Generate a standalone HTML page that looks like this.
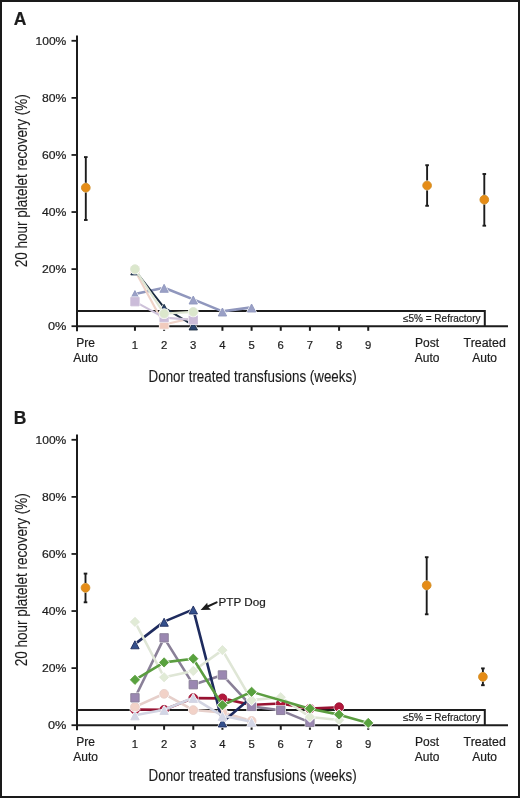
<!DOCTYPE html>
<html><head><meta charset="utf-8"><style>
html,body{margin:0;padding:0;background:#fff;}
#c{position:relative;width:520px;height:798px;overflow:hidden;background:#fff;}
svg{display:block;font-family:"Liberation Sans",sans-serif;fill:#1c1c1c;will-change:transform;}
text{stroke:#1c1c1c;stroke-width:0.2px;}
</style></head><body><div id="c">
<svg width="520" height="798" viewBox="0 0 520 798">
<rect x="1" y="1" width="518" height="796" fill="#fff" stroke="#1a1a1a" stroke-width="2"/>
<g fill="#1c1c1c">
<text x="13.80" y="25.20" font-size="17.5" text-anchor="start" font-weight="bold">A</text>
<line x1="77" y1="35.40" x2="77" y2="331.20" stroke="#1c1c1c" stroke-width="2"/>
<line x1="71.5" y1="326.20" x2="77" y2="326.20" stroke="#1c1c1c" stroke-width="1.8"/>
<text x="66.30" y="330.30" font-size="11" text-anchor="end" font-weight="normal" textLength="18.4" lengthAdjust="spacingAndGlyphs">0%</text>
<line x1="71.5" y1="269.12" x2="77" y2="269.12" stroke="#1c1c1c" stroke-width="1.8"/>
<text x="66.30" y="273.22" font-size="11" text-anchor="end" font-weight="normal" textLength="24.4" lengthAdjust="spacingAndGlyphs">20%</text>
<line x1="71.5" y1="212.04" x2="77" y2="212.04" stroke="#1c1c1c" stroke-width="1.8"/>
<text x="66.30" y="216.14" font-size="11" text-anchor="end" font-weight="normal" textLength="24.4" lengthAdjust="spacingAndGlyphs">40%</text>
<line x1="71.5" y1="154.96" x2="77" y2="154.96" stroke="#1c1c1c" stroke-width="1.8"/>
<text x="66.30" y="159.06" font-size="11" text-anchor="end" font-weight="normal" textLength="24.4" lengthAdjust="spacingAndGlyphs">60%</text>
<line x1="71.5" y1="97.88" x2="77" y2="97.88" stroke="#1c1c1c" stroke-width="1.8"/>
<text x="66.30" y="101.98" font-size="11" text-anchor="end" font-weight="normal" textLength="24.4" lengthAdjust="spacingAndGlyphs">80%</text>
<line x1="71.5" y1="40.80" x2="77" y2="40.80" stroke="#1c1c1c" stroke-width="1.8"/>
<text x="66.30" y="44.90" font-size="11" text-anchor="end" font-weight="normal" textLength="30.8" lengthAdjust="spacingAndGlyphs">100%</text>
<polyline points="77,311.10 484.8,311.10 484.8,326.20" fill="none" stroke="#1c1c1c" stroke-width="2"/>
<line x1="77" y1="326.20" x2="508" y2="326.20" stroke="#1c1c1c" stroke-width="2"/>
<text x="480.50" y="322.20" font-size="10" text-anchor="end" font-weight="normal" textLength="77.5" lengthAdjust="spacingAndGlyphs">&#8804;5% = Refractory</text>
<line x1="134.95" y1="326.20" x2="134.95" y2="330.80" stroke="#1c1c1c" stroke-width="2"/>
<text x="134.95" y="348.80" font-size="11.3" text-anchor="middle" font-weight="normal">1</text>
<line x1="164.11" y1="326.20" x2="164.11" y2="330.80" stroke="#1c1c1c" stroke-width="2"/>
<text x="164.11" y="348.80" font-size="11.3" text-anchor="middle" font-weight="normal">2</text>
<line x1="193.27" y1="326.20" x2="193.27" y2="330.80" stroke="#1c1c1c" stroke-width="2"/>
<text x="193.27" y="348.80" font-size="11.3" text-anchor="middle" font-weight="normal">3</text>
<line x1="222.43" y1="326.20" x2="222.43" y2="330.80" stroke="#1c1c1c" stroke-width="2"/>
<text x="222.43" y="348.80" font-size="11.3" text-anchor="middle" font-weight="normal">4</text>
<line x1="251.59" y1="326.20" x2="251.59" y2="330.80" stroke="#1c1c1c" stroke-width="2"/>
<text x="251.59" y="348.80" font-size="11.3" text-anchor="middle" font-weight="normal">5</text>
<line x1="280.75" y1="326.20" x2="280.75" y2="330.80" stroke="#1c1c1c" stroke-width="2"/>
<text x="280.75" y="348.80" font-size="11.3" text-anchor="middle" font-weight="normal">6</text>
<line x1="309.91" y1="326.20" x2="309.91" y2="330.80" stroke="#1c1c1c" stroke-width="2"/>
<text x="309.91" y="348.80" font-size="11.3" text-anchor="middle" font-weight="normal">7</text>
<line x1="339.07" y1="326.20" x2="339.07" y2="330.80" stroke="#1c1c1c" stroke-width="2"/>
<text x="339.07" y="348.80" font-size="11.3" text-anchor="middle" font-weight="normal">8</text>
<line x1="368.23" y1="326.20" x2="368.23" y2="330.80" stroke="#1c1c1c" stroke-width="2"/>
<text x="368.23" y="348.80" font-size="11.3" text-anchor="middle" font-weight="normal">9</text>
<text x="85.70" y="347.10" font-size="12" text-anchor="middle" font-weight="normal">Pre</text>
<text x="85.70" y="361.70" font-size="12" text-anchor="middle" font-weight="normal">Auto</text>
<text x="427.10" y="347.10" font-size="12" text-anchor="middle" font-weight="normal">Post</text>
<text x="427.10" y="361.70" font-size="12" text-anchor="middle" font-weight="normal">Auto</text>
<text x="484.70" y="347.10" font-size="12" text-anchor="middle" font-weight="normal" textLength="42.2" lengthAdjust="spacingAndGlyphs">Treated</text>
<text x="484.70" y="361.70" font-size="12" text-anchor="middle" font-weight="normal">Auto</text>
<text x="252.60" y="381.60" font-size="16" text-anchor="middle" font-weight="normal" textLength="208" lengthAdjust="spacingAndGlyphs" style="stroke-width:0.12px">Donor treated transfusions (weeks)</text>
<text x="0" y="0" font-size="16" text-anchor="middle" transform="translate(26.5,180.70) rotate(-90)" textLength="173" lengthAdjust="spacingAndGlyphs" style="stroke-width:0.12px">20 hour platelet recovery (%)</text>
<polyline points="134.95,293.95 164.11,287.67 193.27,299.37 222.43,311.36 251.59,307.36" fill="none" stroke="#9097bd" stroke-width="2.6" stroke-linejoin="round"/>
<polygon points="134.95,290.59 139.15,298.59 130.75,298.59" fill="#fff" stroke="#fff" stroke-width="2.0" stroke-linejoin="round"/>
<polygon points="134.95,290.59 139.15,298.59 130.75,298.59" fill="#9aa0c6" stroke="#9097bd" stroke-width="0.9" stroke-linejoin="round"/>
<polygon points="164.11,284.31 168.31,292.31 159.91,292.31" fill="#fff" stroke="#fff" stroke-width="2.0" stroke-linejoin="round"/>
<polygon points="164.11,284.31 168.31,292.31 159.91,292.31" fill="#9aa0c6" stroke="#9097bd" stroke-width="0.9" stroke-linejoin="round"/>
<polygon points="193.27,296.01 197.47,304.01 189.07,304.01" fill="#fff" stroke="#fff" stroke-width="2.0" stroke-linejoin="round"/>
<polygon points="193.27,296.01 197.47,304.01 189.07,304.01" fill="#9aa0c6" stroke="#9097bd" stroke-width="0.9" stroke-linejoin="round"/>
<polygon points="222.43,308.00 226.63,316.00 218.23,316.00" fill="#fff" stroke="#fff" stroke-width="2.0" stroke-linejoin="round"/>
<polygon points="222.43,308.00 226.63,316.00 218.23,316.00" fill="#9aa0c6" stroke="#9097bd" stroke-width="0.9" stroke-linejoin="round"/>
<polygon points="251.59,304.00 255.79,312.00 247.39,312.00" fill="#fff" stroke="#fff" stroke-width="2.0" stroke-linejoin="round"/>
<polygon points="251.59,304.00 255.79,312.00 247.39,312.00" fill="#9aa0c6" stroke="#9097bd" stroke-width="0.9" stroke-linejoin="round"/>
<polyline points="134.95,270.55 164.11,324.49 193.27,317.92" fill="none" stroke="#efd3c8" stroke-width="2.2" stroke-linejoin="round"/>
<rect x="130.75" y="266.35" width="8.40" height="8.40" fill="#fff" stroke="#fff" stroke-width="2.0" stroke-linejoin="round"/>
<rect x="130.75" y="266.35" width="8.40" height="8.40" fill="#f1cbbd" stroke="#efd3c8" stroke-width="0.9" stroke-linejoin="round"/>
<rect x="159.91" y="320.29" width="8.40" height="8.40" fill="#fff" stroke="#fff" stroke-width="2.0" stroke-linejoin="round"/>
<rect x="159.91" y="320.29" width="8.40" height="8.40" fill="#f1cbbd" stroke="#efd3c8" stroke-width="0.9" stroke-linejoin="round"/>
<rect x="189.07" y="313.72" width="8.40" height="8.40" fill="#fff" stroke="#fff" stroke-width="2.0" stroke-linejoin="round"/>
<rect x="189.07" y="313.72" width="8.40" height="8.40" fill="#f1cbbd" stroke="#efd3c8" stroke-width="0.9" stroke-linejoin="round"/>
<polyline points="134.95,270.26 164.11,307.65 193.27,325.34" fill="none" stroke="#1a2c40" stroke-width="1.9" stroke-linejoin="round"/>
<polygon points="134.95,266.90 139.15,274.90 130.75,274.90" fill="#fff" stroke="#fff" stroke-width="2.0" stroke-linejoin="round"/>
<polygon points="134.95,266.90 139.15,274.90 130.75,274.90" fill="#2a4470" stroke="#1a2c40" stroke-width="0.9" stroke-linejoin="round"/>
<polygon points="164.11,304.29 168.31,312.29 159.91,312.29" fill="#fff" stroke="#fff" stroke-width="2.0" stroke-linejoin="round"/>
<polygon points="164.11,304.29 168.31,312.29 159.91,312.29" fill="#2a4470" stroke="#1a2c40" stroke-width="0.9" stroke-linejoin="round"/>
<polygon points="193.27,321.98 197.47,329.98 189.07,329.98" fill="#fff" stroke="#fff" stroke-width="2.0" stroke-linejoin="round"/>
<polygon points="193.27,321.98 197.47,329.98 189.07,329.98" fill="#2a4470" stroke="#1a2c40" stroke-width="0.9" stroke-linejoin="round"/>
<polyline points="134.95,301.66 164.11,317.64 193.27,319.92" fill="none" stroke="#cdc1d9" stroke-width="2.2" stroke-linejoin="round"/>
<rect x="130.75" y="297.46" width="8.40" height="8.40" fill="#fff" stroke="#fff" stroke-width="2.0" stroke-linejoin="round"/>
<rect x="130.75" y="297.46" width="8.40" height="8.40" fill="#cbbcd9" stroke="#cdc1d9" stroke-width="0.9" stroke-linejoin="round"/>
<rect x="159.91" y="313.44" width="8.40" height="8.40" fill="#fff" stroke="#fff" stroke-width="2.0" stroke-linejoin="round"/>
<rect x="159.91" y="313.44" width="8.40" height="8.40" fill="#cbbcd9" stroke="#cdc1d9" stroke-width="0.9" stroke-linejoin="round"/>
<rect x="189.07" y="315.72" width="8.40" height="8.40" fill="#fff" stroke="#fff" stroke-width="2.0" stroke-linejoin="round"/>
<rect x="189.07" y="315.72" width="8.40" height="8.40" fill="#cbbcd9" stroke="#cdc1d9" stroke-width="0.9" stroke-linejoin="round"/>
<polyline points="134.95,269.12 164.11,313.64 193.27,311.93" fill="none" stroke="#dfe6d4" stroke-width="2.2" stroke-linejoin="round"/>
<circle cx="134.95" cy="269.12" r="4.40" fill="#fff" stroke="#fff" stroke-width="2.0" stroke-linejoin="round"/>
<circle cx="134.95" cy="269.12" r="4.40" fill="#dbe7cc" stroke="#dfe6d4" stroke-width="0.9" stroke-linejoin="round"/>
<circle cx="164.11" cy="313.64" r="4.40" fill="#fff" stroke="#fff" stroke-width="2.0" stroke-linejoin="round"/>
<circle cx="164.11" cy="313.64" r="4.40" fill="#dbe7cc" stroke="#dfe6d4" stroke-width="0.9" stroke-linejoin="round"/>
<circle cx="193.27" cy="311.93" r="4.40" fill="#fff" stroke="#fff" stroke-width="2.0" stroke-linejoin="round"/>
<circle cx="193.27" cy="311.93" r="4.40" fill="#dbe7cc" stroke="#dfe6d4" stroke-width="0.9" stroke-linejoin="round"/>
<line x1="85.80" y1="157.10" x2="85.80" y2="220.00" stroke="#1c1c1c" stroke-width="1.9"/>
<line x1="84.00" y1="157.10" x2="87.60" y2="157.10" stroke="#1c1c1c" stroke-width="1.9"/>
<line x1="84.00" y1="220.00" x2="87.60" y2="220.00" stroke="#1c1c1c" stroke-width="1.9"/>
<circle cx="85.80" cy="187.70" r="4.9" fill="#fff"/>
<circle cx="85.80" cy="187.70" r="4.35" fill="#e68c16" stroke="#d08c24" stroke-width="0.9"/>
<line x1="427.10" y1="165.20" x2="427.10" y2="205.80" stroke="#1c1c1c" stroke-width="1.9"/>
<line x1="425.30" y1="165.20" x2="428.90" y2="165.20" stroke="#1c1c1c" stroke-width="1.9"/>
<line x1="425.30" y1="205.80" x2="428.90" y2="205.80" stroke="#1c1c1c" stroke-width="1.9"/>
<circle cx="427.10" cy="185.50" r="4.9" fill="#fff"/>
<circle cx="427.10" cy="185.50" r="4.35" fill="#e68c16" stroke="#d08c24" stroke-width="0.9"/>
<line x1="484.30" y1="174.00" x2="484.30" y2="225.70" stroke="#1c1c1c" stroke-width="1.9"/>
<line x1="482.50" y1="174.00" x2="486.10" y2="174.00" stroke="#1c1c1c" stroke-width="1.9"/>
<line x1="482.50" y1="225.70" x2="486.10" y2="225.70" stroke="#1c1c1c" stroke-width="1.9"/>
<circle cx="484.30" cy="199.70" r="4.9" fill="#fff"/>
<circle cx="484.30" cy="199.70" r="4.35" fill="#e68c16" stroke="#d08c24" stroke-width="0.9"/>
<text x="13.80" y="424.20" font-size="17.5" text-anchor="start" font-weight="bold">B</text>
<line x1="77" y1="434.40" x2="77" y2="730.20" stroke="#1c1c1c" stroke-width="2"/>
<line x1="71.5" y1="725.20" x2="77" y2="725.20" stroke="#1c1c1c" stroke-width="1.8"/>
<text x="66.30" y="729.30" font-size="11" text-anchor="end" font-weight="normal" textLength="18.4" lengthAdjust="spacingAndGlyphs">0%</text>
<line x1="71.5" y1="668.12" x2="77" y2="668.12" stroke="#1c1c1c" stroke-width="1.8"/>
<text x="66.30" y="672.22" font-size="11" text-anchor="end" font-weight="normal" textLength="24.4" lengthAdjust="spacingAndGlyphs">20%</text>
<line x1="71.5" y1="611.04" x2="77" y2="611.04" stroke="#1c1c1c" stroke-width="1.8"/>
<text x="66.30" y="615.14" font-size="11" text-anchor="end" font-weight="normal" textLength="24.4" lengthAdjust="spacingAndGlyphs">40%</text>
<line x1="71.5" y1="553.96" x2="77" y2="553.96" stroke="#1c1c1c" stroke-width="1.8"/>
<text x="66.30" y="558.06" font-size="11" text-anchor="end" font-weight="normal" textLength="24.4" lengthAdjust="spacingAndGlyphs">60%</text>
<line x1="71.5" y1="496.88" x2="77" y2="496.88" stroke="#1c1c1c" stroke-width="1.8"/>
<text x="66.30" y="500.98" font-size="11" text-anchor="end" font-weight="normal" textLength="24.4" lengthAdjust="spacingAndGlyphs">80%</text>
<line x1="71.5" y1="439.80" x2="77" y2="439.80" stroke="#1c1c1c" stroke-width="1.8"/>
<text x="66.30" y="443.90" font-size="11" text-anchor="end" font-weight="normal" textLength="30.8" lengthAdjust="spacingAndGlyphs">100%</text>
<polyline points="77,710.10 484.8,710.10 484.8,725.20" fill="none" stroke="#1c1c1c" stroke-width="2"/>
<line x1="77" y1="725.20" x2="508" y2="725.20" stroke="#1c1c1c" stroke-width="2"/>
<text x="480.50" y="721.20" font-size="10" text-anchor="end" font-weight="normal" textLength="77.5" lengthAdjust="spacingAndGlyphs">&#8804;5% = Refractory</text>
<line x1="134.95" y1="725.20" x2="134.95" y2="729.80" stroke="#1c1c1c" stroke-width="2"/>
<text x="134.95" y="747.80" font-size="11.3" text-anchor="middle" font-weight="normal">1</text>
<line x1="164.11" y1="725.20" x2="164.11" y2="729.80" stroke="#1c1c1c" stroke-width="2"/>
<text x="164.11" y="747.80" font-size="11.3" text-anchor="middle" font-weight="normal">2</text>
<line x1="193.27" y1="725.20" x2="193.27" y2="729.80" stroke="#1c1c1c" stroke-width="2"/>
<text x="193.27" y="747.80" font-size="11.3" text-anchor="middle" font-weight="normal">3</text>
<line x1="222.43" y1="725.20" x2="222.43" y2="729.80" stroke="#1c1c1c" stroke-width="2"/>
<text x="222.43" y="747.80" font-size="11.3" text-anchor="middle" font-weight="normal">4</text>
<line x1="251.59" y1="725.20" x2="251.59" y2="729.80" stroke="#1c1c1c" stroke-width="2"/>
<text x="251.59" y="747.80" font-size="11.3" text-anchor="middle" font-weight="normal">5</text>
<line x1="280.75" y1="725.20" x2="280.75" y2="729.80" stroke="#1c1c1c" stroke-width="2"/>
<text x="280.75" y="747.80" font-size="11.3" text-anchor="middle" font-weight="normal">6</text>
<line x1="309.91" y1="725.20" x2="309.91" y2="729.80" stroke="#1c1c1c" stroke-width="2"/>
<text x="309.91" y="747.80" font-size="11.3" text-anchor="middle" font-weight="normal">7</text>
<line x1="339.07" y1="725.20" x2="339.07" y2="729.80" stroke="#1c1c1c" stroke-width="2"/>
<text x="339.07" y="747.80" font-size="11.3" text-anchor="middle" font-weight="normal">8</text>
<line x1="368.23" y1="725.20" x2="368.23" y2="729.80" stroke="#1c1c1c" stroke-width="2"/>
<text x="368.23" y="747.80" font-size="11.3" text-anchor="middle" font-weight="normal">9</text>
<text x="85.70" y="746.10" font-size="12" text-anchor="middle" font-weight="normal">Pre</text>
<text x="85.70" y="760.70" font-size="12" text-anchor="middle" font-weight="normal">Auto</text>
<text x="427.10" y="746.10" font-size="12" text-anchor="middle" font-weight="normal">Post</text>
<text x="427.10" y="760.70" font-size="12" text-anchor="middle" font-weight="normal">Auto</text>
<text x="484.70" y="746.10" font-size="12" text-anchor="middle" font-weight="normal" textLength="42.2" lengthAdjust="spacingAndGlyphs">Treated</text>
<text x="484.70" y="760.70" font-size="12" text-anchor="middle" font-weight="normal">Auto</text>
<text x="252.60" y="780.60" font-size="16" text-anchor="middle" font-weight="normal" textLength="208" lengthAdjust="spacingAndGlyphs" style="stroke-width:0.12px">Donor treated transfusions (weeks)</text>
<text x="0" y="0" font-size="16" text-anchor="middle" transform="translate(26.5,579.70) rotate(-90)" textLength="173" lengthAdjust="spacingAndGlyphs" style="stroke-width:0.12px">20 hour platelet recovery (%)</text>
<polyline points="134.95,709.50 164.11,709.79 193.27,698.09 222.43,698.37 251.59,704.94 280.75,703.51 309.91,708.65 339.07,707.22" fill="none" stroke="#981232" stroke-width="2.6" stroke-linejoin="round"/>
<circle cx="134.95" cy="709.50" r="4.40" fill="#fff" stroke="#fff" stroke-width="2.0" stroke-linejoin="round"/>
<circle cx="134.95" cy="709.50" r="4.40" fill="#b3173c" stroke="#981232" stroke-width="0.9" stroke-linejoin="round"/>
<circle cx="164.11" cy="709.79" r="4.40" fill="#fff" stroke="#fff" stroke-width="2.0" stroke-linejoin="round"/>
<circle cx="164.11" cy="709.79" r="4.40" fill="#b3173c" stroke="#981232" stroke-width="0.9" stroke-linejoin="round"/>
<circle cx="193.27" cy="698.09" r="4.40" fill="#fff" stroke="#fff" stroke-width="2.0" stroke-linejoin="round"/>
<circle cx="193.27" cy="698.09" r="4.40" fill="#b3173c" stroke="#981232" stroke-width="0.9" stroke-linejoin="round"/>
<circle cx="222.43" cy="698.37" r="4.40" fill="#fff" stroke="#fff" stroke-width="2.0" stroke-linejoin="round"/>
<circle cx="222.43" cy="698.37" r="4.40" fill="#b3173c" stroke="#981232" stroke-width="0.9" stroke-linejoin="round"/>
<circle cx="251.59" cy="704.94" r="4.40" fill="#fff" stroke="#fff" stroke-width="2.0" stroke-linejoin="round"/>
<circle cx="251.59" cy="704.94" r="4.40" fill="#b3173c" stroke="#981232" stroke-width="0.9" stroke-linejoin="round"/>
<circle cx="280.75" cy="703.51" r="4.40" fill="#fff" stroke="#fff" stroke-width="2.0" stroke-linejoin="round"/>
<circle cx="280.75" cy="703.51" r="4.40" fill="#b3173c" stroke="#981232" stroke-width="0.9" stroke-linejoin="round"/>
<circle cx="309.91" cy="708.65" r="4.40" fill="#fff" stroke="#fff" stroke-width="2.0" stroke-linejoin="round"/>
<circle cx="309.91" cy="708.65" r="4.40" fill="#b3173c" stroke="#981232" stroke-width="0.9" stroke-linejoin="round"/>
<circle cx="339.07" cy="707.22" r="4.40" fill="#fff" stroke="#fff" stroke-width="2.0" stroke-linejoin="round"/>
<circle cx="339.07" cy="707.22" r="4.40" fill="#b3173c" stroke="#981232" stroke-width="0.9" stroke-linejoin="round"/>
<polyline points="134.95,706.93 164.11,693.81 193.27,710.07 222.43,712.36 251.59,720.92" fill="none" stroke="#e6cfca" stroke-width="2.6" stroke-linejoin="round"/>
<circle cx="134.95" cy="706.93" r="4.40" fill="#fff" stroke="#fff" stroke-width="2.0" stroke-linejoin="round"/>
<circle cx="134.95" cy="706.93" r="4.40" fill="#f2d2c8" stroke="#e6cfca" stroke-width="0.9" stroke-linejoin="round"/>
<circle cx="164.11" cy="693.81" r="4.40" fill="#fff" stroke="#fff" stroke-width="2.0" stroke-linejoin="round"/>
<circle cx="164.11" cy="693.81" r="4.40" fill="#f2d2c8" stroke="#e6cfca" stroke-width="0.9" stroke-linejoin="round"/>
<circle cx="193.27" cy="710.07" r="4.40" fill="#fff" stroke="#fff" stroke-width="2.0" stroke-linejoin="round"/>
<circle cx="193.27" cy="710.07" r="4.40" fill="#f2d2c8" stroke="#e6cfca" stroke-width="0.9" stroke-linejoin="round"/>
<circle cx="222.43" cy="712.36" r="4.40" fill="#fff" stroke="#fff" stroke-width="2.0" stroke-linejoin="round"/>
<circle cx="222.43" cy="712.36" r="4.40" fill="#f2d2c8" stroke="#e6cfca" stroke-width="0.9" stroke-linejoin="round"/>
<circle cx="251.59" cy="720.92" r="4.40" fill="#fff" stroke="#fff" stroke-width="2.0" stroke-linejoin="round"/>
<circle cx="251.59" cy="720.92" r="4.40" fill="#f2d2c8" stroke="#e6cfca" stroke-width="0.9" stroke-linejoin="round"/>
<polyline points="134.95,697.80 164.11,637.87 193.27,684.67 222.43,674.97 251.59,706.36 280.75,710.36 309.91,722.35" fill="none" stroke="#8a8098" stroke-width="2.6" stroke-linejoin="round"/>
<rect x="130.75" y="693.60" width="8.40" height="8.40" fill="#fff" stroke="#fff" stroke-width="2.0" stroke-linejoin="round"/>
<rect x="130.75" y="693.60" width="8.40" height="8.40" fill="#9a87b1" stroke="#8a8098" stroke-width="0.9" stroke-linejoin="round"/>
<rect x="159.91" y="633.67" width="8.40" height="8.40" fill="#fff" stroke="#fff" stroke-width="2.0" stroke-linejoin="round"/>
<rect x="159.91" y="633.67" width="8.40" height="8.40" fill="#9a87b1" stroke="#8a8098" stroke-width="0.9" stroke-linejoin="round"/>
<rect x="189.07" y="680.47" width="8.40" height="8.40" fill="#fff" stroke="#fff" stroke-width="2.0" stroke-linejoin="round"/>
<rect x="189.07" y="680.47" width="8.40" height="8.40" fill="#9a87b1" stroke="#8a8098" stroke-width="0.9" stroke-linejoin="round"/>
<rect x="218.23" y="670.77" width="8.40" height="8.40" fill="#fff" stroke="#fff" stroke-width="2.0" stroke-linejoin="round"/>
<rect x="218.23" y="670.77" width="8.40" height="8.40" fill="#9a87b1" stroke="#8a8098" stroke-width="0.9" stroke-linejoin="round"/>
<rect x="247.39" y="702.16" width="8.40" height="8.40" fill="#fff" stroke="#fff" stroke-width="2.0" stroke-linejoin="round"/>
<rect x="247.39" y="702.16" width="8.40" height="8.40" fill="#9a87b1" stroke="#8a8098" stroke-width="0.9" stroke-linejoin="round"/>
<rect x="276.55" y="706.16" width="8.40" height="8.40" fill="#fff" stroke="#fff" stroke-width="2.0" stroke-linejoin="round"/>
<rect x="276.55" y="706.16" width="8.40" height="8.40" fill="#9a87b1" stroke="#8a8098" stroke-width="0.9" stroke-linejoin="round"/>
<rect x="305.71" y="718.15" width="8.40" height="8.40" fill="#fff" stroke="#fff" stroke-width="2.0" stroke-linejoin="round"/>
<rect x="305.71" y="718.15" width="8.40" height="8.40" fill="#9a87b1" stroke="#8a8098" stroke-width="0.9" stroke-linejoin="round"/>
<polyline points="134.95,644.15 164.11,621.60 193.27,609.33 222.43,722.35 251.59,697.23" fill="none" stroke="#1e2b5e" stroke-width="2.6" stroke-linejoin="round"/>
<polygon points="134.95,640.79 139.15,648.79 130.75,648.79" fill="#fff" stroke="#fff" stroke-width="2.0" stroke-linejoin="round"/>
<polygon points="134.95,640.79 139.15,648.79 130.75,648.79" fill="#34508c" stroke="#1e2b5e" stroke-width="0.9" stroke-linejoin="round"/>
<polygon points="164.11,618.24 168.31,626.24 159.91,626.24" fill="#fff" stroke="#fff" stroke-width="2.0" stroke-linejoin="round"/>
<polygon points="164.11,618.24 168.31,626.24 159.91,626.24" fill="#34508c" stroke="#1e2b5e" stroke-width="0.9" stroke-linejoin="round"/>
<polygon points="193.27,605.97 197.47,613.97 189.07,613.97" fill="#fff" stroke="#fff" stroke-width="2.0" stroke-linejoin="round"/>
<polygon points="193.27,605.97 197.47,613.97 189.07,613.97" fill="#34508c" stroke="#1e2b5e" stroke-width="0.9" stroke-linejoin="round"/>
<polygon points="222.43,718.99 226.63,726.99 218.23,726.99" fill="#fff" stroke="#fff" stroke-width="2.0" stroke-linejoin="round"/>
<polygon points="222.43,718.99 226.63,726.99 218.23,726.99" fill="#34508c" stroke="#1e2b5e" stroke-width="0.9" stroke-linejoin="round"/>
<polygon points="251.59,693.87 255.79,701.87 247.39,701.87" fill="#fff" stroke="#fff" stroke-width="2.0" stroke-linejoin="round"/>
<polygon points="251.59,693.87 255.79,701.87 247.39,701.87" fill="#34508c" stroke="#1e2b5e" stroke-width="0.9" stroke-linejoin="round"/>
<polyline points="134.95,715.21 164.11,709.79 193.27,697.80 222.43,715.78 251.59,721.78" fill="none" stroke="#d2d4e2" stroke-width="2.6" stroke-linejoin="round"/>
<polygon points="134.95,711.85 139.15,719.85 130.75,719.85" fill="#fff" stroke="#fff" stroke-width="2.0" stroke-linejoin="round"/>
<polygon points="134.95,711.85 139.15,719.85 130.75,719.85" fill="#d3d6e6" stroke="#d2d4e2" stroke-width="0.9" stroke-linejoin="round"/>
<polygon points="164.11,706.43 168.31,714.43 159.91,714.43" fill="#fff" stroke="#fff" stroke-width="2.0" stroke-linejoin="round"/>
<polygon points="164.11,706.43 168.31,714.43 159.91,714.43" fill="#d3d6e6" stroke="#d2d4e2" stroke-width="0.9" stroke-linejoin="round"/>
<polygon points="193.27,694.44 197.47,702.44 189.07,702.44" fill="#fff" stroke="#fff" stroke-width="2.0" stroke-linejoin="round"/>
<polygon points="193.27,694.44 197.47,702.44 189.07,702.44" fill="#d3d6e6" stroke="#d2d4e2" stroke-width="0.9" stroke-linejoin="round"/>
<polygon points="222.43,712.42 226.63,720.42 218.23,720.42" fill="#fff" stroke="#fff" stroke-width="2.0" stroke-linejoin="round"/>
<polygon points="222.43,712.42 226.63,720.42 218.23,720.42" fill="#d3d6e6" stroke="#d2d4e2" stroke-width="0.9" stroke-linejoin="round"/>
<polygon points="251.59,718.42 255.79,726.42 247.39,726.42" fill="#fff" stroke="#fff" stroke-width="2.0" stroke-linejoin="round"/>
<polygon points="251.59,718.42 255.79,726.42 247.39,726.42" fill="#d3d6e6" stroke="#d2d4e2" stroke-width="0.9" stroke-linejoin="round"/>
<polyline points="134.95,621.89 164.11,677.25 193.27,670.97 222.43,650.14 251.59,700.08 280.75,697.23 309.91,716.92 339.07,720.06" fill="none" stroke="#dfe6d6" stroke-width="2.6" stroke-linejoin="round"/>
<polygon points="134.95,617.29 139.55,621.89 134.95,626.49 130.35,621.89" fill="#fff" stroke="#fff" stroke-width="2.0" stroke-linejoin="round"/>
<polygon points="134.95,617.29 139.55,621.89 134.95,626.49 130.35,621.89" fill="#e1ebd6" stroke="#dfe6d6" stroke-width="0.9" stroke-linejoin="round"/>
<polygon points="164.11,672.65 168.71,677.25 164.11,681.85 159.51,677.25" fill="#fff" stroke="#fff" stroke-width="2.0" stroke-linejoin="round"/>
<polygon points="164.11,672.65 168.71,677.25 164.11,681.85 159.51,677.25" fill="#e1ebd6" stroke="#dfe6d6" stroke-width="0.9" stroke-linejoin="round"/>
<polygon points="193.27,666.37 197.87,670.97 193.27,675.57 188.67,670.97" fill="#fff" stroke="#fff" stroke-width="2.0" stroke-linejoin="round"/>
<polygon points="193.27,666.37 197.87,670.97 193.27,675.57 188.67,670.97" fill="#e1ebd6" stroke="#dfe6d6" stroke-width="0.9" stroke-linejoin="round"/>
<polygon points="222.43,645.54 227.03,650.14 222.43,654.74 217.83,650.14" fill="#fff" stroke="#fff" stroke-width="2.0" stroke-linejoin="round"/>
<polygon points="222.43,645.54 227.03,650.14 222.43,654.74 217.83,650.14" fill="#e1ebd6" stroke="#dfe6d6" stroke-width="0.9" stroke-linejoin="round"/>
<polygon points="251.59,695.48 256.19,700.08 251.59,704.68 246.99,700.08" fill="#fff" stroke="#fff" stroke-width="2.0" stroke-linejoin="round"/>
<polygon points="251.59,695.48 256.19,700.08 251.59,704.68 246.99,700.08" fill="#e1ebd6" stroke="#dfe6d6" stroke-width="0.9" stroke-linejoin="round"/>
<polygon points="280.75,692.63 285.35,697.23 280.75,701.83 276.15,697.23" fill="#fff" stroke="#fff" stroke-width="2.0" stroke-linejoin="round"/>
<polygon points="280.75,692.63 285.35,697.23 280.75,701.83 276.15,697.23" fill="#e1ebd6" stroke="#dfe6d6" stroke-width="0.9" stroke-linejoin="round"/>
<polygon points="309.91,712.32 314.51,716.92 309.91,721.52 305.31,716.92" fill="#fff" stroke="#fff" stroke-width="2.0" stroke-linejoin="round"/>
<polygon points="309.91,712.32 314.51,716.92 309.91,721.52 305.31,716.92" fill="#e1ebd6" stroke="#dfe6d6" stroke-width="0.9" stroke-linejoin="round"/>
<polygon points="339.07,715.46 343.67,720.06 339.07,724.66 334.47,720.06" fill="#fff" stroke="#fff" stroke-width="2.0" stroke-linejoin="round"/>
<polygon points="339.07,715.46 343.67,720.06 339.07,724.66 334.47,720.06" fill="#e1ebd6" stroke="#dfe6d6" stroke-width="0.9" stroke-linejoin="round"/>
<polyline points="134.95,679.82 164.11,662.41 193.27,658.70 222.43,705.22 251.59,691.81 309.91,708.65 339.07,714.64 368.23,722.92" fill="none" stroke="#5b9d40" stroke-width="2.6" stroke-linejoin="round"/>
<polygon points="134.95,675.22 139.55,679.82 134.95,684.42 130.35,679.82" fill="#fff" stroke="#fff" stroke-width="2.0" stroke-linejoin="round"/>
<polygon points="134.95,675.22 139.55,679.82 134.95,684.42 130.35,679.82" fill="#58a23e" stroke="#5b9d40" stroke-width="0.9" stroke-linejoin="round"/>
<polygon points="164.11,657.81 168.71,662.41 164.11,667.01 159.51,662.41" fill="#fff" stroke="#fff" stroke-width="2.0" stroke-linejoin="round"/>
<polygon points="164.11,657.81 168.71,662.41 164.11,667.01 159.51,662.41" fill="#58a23e" stroke="#5b9d40" stroke-width="0.9" stroke-linejoin="round"/>
<polygon points="193.27,654.10 197.87,658.70 193.27,663.30 188.67,658.70" fill="#fff" stroke="#fff" stroke-width="2.0" stroke-linejoin="round"/>
<polygon points="193.27,654.10 197.87,658.70 193.27,663.30 188.67,658.70" fill="#58a23e" stroke="#5b9d40" stroke-width="0.9" stroke-linejoin="round"/>
<polygon points="222.43,700.62 227.03,705.22 222.43,709.82 217.83,705.22" fill="#fff" stroke="#fff" stroke-width="2.0" stroke-linejoin="round"/>
<polygon points="222.43,700.62 227.03,705.22 222.43,709.82 217.83,705.22" fill="#58a23e" stroke="#5b9d40" stroke-width="0.9" stroke-linejoin="round"/>
<polygon points="251.59,687.21 256.19,691.81 251.59,696.41 246.99,691.81" fill="#fff" stroke="#fff" stroke-width="2.0" stroke-linejoin="round"/>
<polygon points="251.59,687.21 256.19,691.81 251.59,696.41 246.99,691.81" fill="#58a23e" stroke="#5b9d40" stroke-width="0.9" stroke-linejoin="round"/>
<polygon points="309.91,704.05 314.51,708.65 309.91,713.25 305.31,708.65" fill="#fff" stroke="#fff" stroke-width="2.0" stroke-linejoin="round"/>
<polygon points="309.91,704.05 314.51,708.65 309.91,713.25 305.31,708.65" fill="#58a23e" stroke="#5b9d40" stroke-width="0.9" stroke-linejoin="round"/>
<polygon points="339.07,710.04 343.67,714.64 339.07,719.24 334.47,714.64" fill="#fff" stroke="#fff" stroke-width="2.0" stroke-linejoin="round"/>
<polygon points="339.07,710.04 343.67,714.64 339.07,719.24 334.47,714.64" fill="#58a23e" stroke="#5b9d40" stroke-width="0.9" stroke-linejoin="round"/>
<polygon points="368.23,718.32 372.83,722.92 368.23,727.52 363.63,722.92" fill="#fff" stroke="#fff" stroke-width="2.0" stroke-linejoin="round"/>
<polygon points="368.23,718.32 372.83,722.92 368.23,727.52 363.63,722.92" fill="#58a23e" stroke="#5b9d40" stroke-width="0.9" stroke-linejoin="round"/>
<line x1="85.50" y1="573.60" x2="85.50" y2="602.30" stroke="#1c1c1c" stroke-width="1.9"/>
<line x1="83.70" y1="573.60" x2="87.30" y2="573.60" stroke="#1c1c1c" stroke-width="1.9"/>
<line x1="83.70" y1="602.30" x2="87.30" y2="602.30" stroke="#1c1c1c" stroke-width="1.9"/>
<circle cx="85.50" cy="587.80" r="4.9" fill="#fff"/>
<circle cx="85.50" cy="587.80" r="4.35" fill="#e68c16" stroke="#d08c24" stroke-width="0.9"/>
<line x1="426.70" y1="557.20" x2="426.70" y2="614.30" stroke="#1c1c1c" stroke-width="1.9"/>
<line x1="424.90" y1="557.20" x2="428.50" y2="557.20" stroke="#1c1c1c" stroke-width="1.9"/>
<line x1="424.90" y1="614.30" x2="428.50" y2="614.30" stroke="#1c1c1c" stroke-width="1.9"/>
<circle cx="426.70" cy="585.30" r="4.9" fill="#fff"/>
<circle cx="426.70" cy="585.30" r="4.35" fill="#e68c16" stroke="#d08c24" stroke-width="0.9"/>
<line x1="482.90" y1="668.40" x2="482.90" y2="685.20" stroke="#1c1c1c" stroke-width="1.9"/>
<line x1="481.10" y1="668.40" x2="484.70" y2="668.40" stroke="#1c1c1c" stroke-width="1.9"/>
<line x1="481.10" y1="685.20" x2="484.70" y2="685.20" stroke="#1c1c1c" stroke-width="1.9"/>
<circle cx="482.90" cy="676.80" r="4.9" fill="#fff"/>
<circle cx="482.90" cy="676.80" r="4.35" fill="#e68c16" stroke="#d08c24" stroke-width="0.9"/>
<text x="218.50" y="606.20" font-size="11.5" text-anchor="start" font-weight="normal" textLength="47.2" lengthAdjust="spacingAndGlyphs">PTP Dog</text>
<line x1="216.6" y1="602.4" x2="206" y2="607.3" stroke="#1c1c1c" stroke-width="2.1" stroke-linecap="round"/>
<polygon points="200.6,609.9 207.2,602.7 207.9,606.8 211.0,609.7" fill="#1c1c1c"/>
</g>
</svg></div></body></html>
